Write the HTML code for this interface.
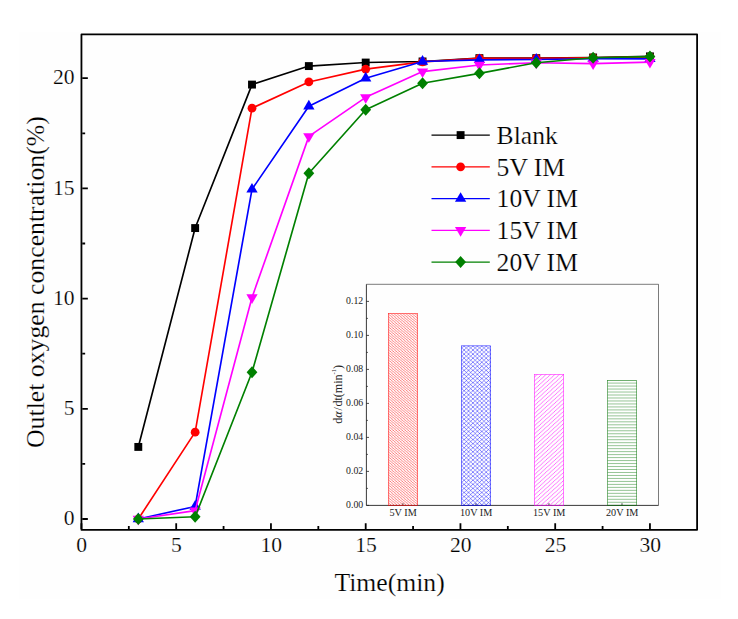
<!DOCTYPE html>
<html lang="en"><head><meta charset="utf-8"><title>Outlet oxygen concentration</title>
<style>
html,body{margin:0;padding:0;background:#fff;}
body{width:738px;height:619px;overflow:hidden;}
svg{display:block;font-family:"Liberation Serif","Times New Roman",serif;}
text{stroke:#fefefe;stroke-width:0.2px;paint-order:fill stroke;}
.sm text,text.sm{stroke:none;}
</style></head><body>
<svg width="738" height="619" viewBox="0 0 738 619">
<defs>
<pattern id="h1" width="3.03" height="2.55" patternUnits="userSpaceOnUse"><path d="M-3.03 0L0 2.55M0 0L3.03 2.55M3.03 0L6.06 2.55" stroke="#ff0000" stroke-width="0.5" stroke-opacity="1" fill="none"/></pattern>
<pattern id="h2" width="4.42" height="4.07" patternUnits="userSpaceOnUse"><path d="M-4.42 0L0 4.07M0 0L4.42 4.07M4.42 0L8.84 4.07M-4.42 4.07L0 0M0 4.07L4.42 0M4.42 4.07L8.84 0" stroke="#0000ff" stroke-width="0.45" stroke-opacity="1" fill="none"/></pattern>
<pattern id="h3" width="4.44" height="4.07" patternUnits="userSpaceOnUse"><path d="M-4.44 4.07L0 0M0 4.07L4.44 0M4.44 4.07L8.88 0" stroke="#ff00ff" stroke-width="0.55" stroke-opacity="1" fill="none"/></pattern>
<pattern id="h4" x="0" y="380.6" width="3" height="2.98" patternUnits="userSpaceOnUse"><path d="M0 2.9H3" stroke="#007000" stroke-width="0.7"/></pattern>
</defs>
<rect x="19" y="32" width="702" height="567" fill="#fefefe"/>
<rect x="81.45" y="34.4" width="615.65" height="495.45" fill="none" stroke="#000" stroke-width="1.8" stroke-linejoin="round"/>
<path d="M82.25 519.00h5.6 M82.25 408.80h5.6 M82.25 298.60h5.6 M82.25 188.40h5.6 M82.25 78.20h5.6 M82.25 463.90h2.9 M82.25 353.70h2.9 M82.25 243.50h2.9 M82.25 133.30h2.9 M81.45 529.05v-5.9 M176.20 529.05v-5.9 M270.95 529.05v-5.9 M365.70 529.05v-5.9 M460.45 529.05v-5.9 M555.20 529.05v-5.9 M649.95 529.05v-5.9 M128.82 529.05v-3.1 M223.57 529.05v-3.1 M318.32 529.05v-3.1 M413.07 529.05v-3.1 M507.82 529.05v-3.1 M602.58 529.05v-3.1" stroke="#000" stroke-width="1.8" fill="none"/>
<g font-size="21.6px" fill="#000">
<text x="74.6" y="525.10" text-anchor="end">0</text>
<text x="74.6" y="414.90" text-anchor="end">5</text>
<text x="74.6" y="304.70" text-anchor="end">10</text>
<text x="74.6" y="194.50" text-anchor="end">15</text>
<text x="74.6" y="84.30" text-anchor="end">20</text>
<text x="81.75" y="551.9" text-anchor="middle">0</text>
<text x="176.50" y="551.9" text-anchor="middle">5</text>
<text x="271.25" y="551.9" text-anchor="middle">10</text>
<text x="366.00" y="551.9" text-anchor="middle">15</text>
<text x="460.75" y="551.9" text-anchor="middle">20</text>
<text x="555.50" y="551.9" text-anchor="middle">25</text>
<text x="650.25" y="551.9" text-anchor="middle">30</text>
</g>
<text x="389.6" y="591.4" font-size="25.7px" text-anchor="middle">Time(min)</text>
<text transform="translate(44.2 282.1) rotate(-90)" font-size="25.75px" text-anchor="middle">Outlet oxygen concentration(%)</text>
<path d="M366.4 284.3H658.5V505.4" fill="none" stroke="#222" stroke-width="0.6"/>
<path d="M366.4 284.3V505.4H658.5" fill="none" stroke="#222" stroke-width="0.9"/>
<path d="M366.4 505.40h2.6 M366.4 471.40h2.6 M366.4 437.40h2.6 M366.4 403.40h2.6 M366.4 369.40h2.6 M366.4 335.40h2.6 M366.4 301.40h2.6 M366.4 488.40h1.5 M366.4 454.40h1.5 M366.4 420.40h1.5 M366.4 386.40h1.5 M366.4 352.40h1.5 M366.4 318.40h1.5 M402.91 505.4v-2.2 M475.94 505.4v-2.2 M548.96 505.4v-2.2 M621.99 505.4v-2.2" stroke="#222" stroke-width="0.8" fill="none"/>
<g class="sm" font-size="9.8px" fill="#222">
<text x="363.2" y="508.00" text-anchor="end">0.00</text>
<text x="363.2" y="474.00" text-anchor="end">0.02</text>
<text x="363.2" y="440.00" text-anchor="end">0.04</text>
<text x="363.2" y="406.00" text-anchor="end">0.06</text>
<text x="363.2" y="372.00" text-anchor="end">0.08</text>
<text x="363.2" y="338.00" text-anchor="end">0.10</text>
<text x="363.2" y="304.00" text-anchor="end">0.12</text>
<text x="403.11" y="515.6" font-size="10.2px" text-anchor="middle">5V IM</text>
<text x="476.14" y="515.6" font-size="10.2px" text-anchor="middle">10V IM</text>
<text x="549.16" y="515.6" font-size="10.2px" text-anchor="middle">15V IM</text>
<text x="622.19" y="515.6" font-size="10.2px" text-anchor="middle">20V IM</text>
</g>
<text transform="translate(341.6 394.4) rotate(-90)" class="sm" font-size="12px" fill="#222" text-anchor="middle">d<tspan font-style="italic">α</tspan><tspan dx="0.8">/</tspan><tspan dx="0.8">dt(min</tspan><tspan font-size="6.5px" dy="-5.6">-1</tspan><tspan dy="5.6">)</tspan></text>
<rect x="388.30" y="313.40" width="29.40" height="192.00" fill="url(#h1)" stroke="#ff0000" stroke-width="0.6" stroke-opacity="0.85"/>
<rect x="461.40" y="345.85" width="29.30" height="159.55" fill="url(#h2)" stroke="#0000ff" stroke-width="0.6" stroke-opacity="0.85"/>
<rect x="534.30" y="374.40" width="29.40" height="131.00" fill="url(#h3)" stroke="#ff00ff" stroke-width="0.6" stroke-opacity="0.85"/>
<rect x="607.60" y="380.60" width="29.10" height="124.80" fill="url(#h4)" stroke="#007000" stroke-width="0.6" stroke-opacity="0.85"/>
<polyline points="138.30,446.93 195.15,228.07 252.00,84.59 308.85,66.08 365.70,62.55 422.55,61.45 479.40,58.14 536.25,58.14 593.10,57.48 649.95,56.38" fill="none" stroke="#000000" stroke-width="1.65" stroke-linejoin="round"/>
<rect x="134.35" y="442.98" width="7.90" height="7.90" fill="#000000"/>
<rect x="191.20" y="224.12" width="7.90" height="7.90" fill="#000000"/>
<rect x="248.05" y="80.64" width="7.90" height="7.90" fill="#000000"/>
<rect x="304.90" y="62.13" width="7.90" height="7.90" fill="#000000"/>
<rect x="361.75" y="58.60" width="7.90" height="7.90" fill="#000000"/>
<rect x="418.60" y="57.50" width="7.90" height="7.90" fill="#000000"/>
<rect x="475.45" y="54.19" width="7.90" height="7.90" fill="#000000"/>
<rect x="532.30" y="54.19" width="7.90" height="7.90" fill="#000000"/>
<rect x="589.15" y="53.53" width="7.90" height="7.90" fill="#000000"/>
<rect x="646.00" y="52.43" width="7.90" height="7.90" fill="#000000"/>
<polyline points="138.30,519.00 195.15,432.16 252.00,108.17 308.85,81.95 365.70,69.16 422.55,61.89 479.40,58.36 536.25,58.36 593.10,57.70 649.95,56.82" fill="none" stroke="#ff0000" stroke-width="1.65" stroke-linejoin="round"/>
<circle cx="138.30" cy="519.00" r="4.40" fill="#ff0000"/>
<circle cx="195.15" cy="432.16" r="4.40" fill="#ff0000"/>
<circle cx="252.00" cy="108.17" r="4.40" fill="#ff0000"/>
<circle cx="308.85" cy="81.95" r="4.40" fill="#ff0000"/>
<circle cx="365.70" cy="69.16" r="4.40" fill="#ff0000"/>
<circle cx="422.55" cy="61.89" r="4.40" fill="#ff0000"/>
<circle cx="479.40" cy="58.36" r="4.40" fill="#ff0000"/>
<circle cx="536.25" cy="58.36" r="4.40" fill="#ff0000"/>
<circle cx="593.10" cy="57.70" r="4.40" fill="#ff0000"/>
<circle cx="649.95" cy="56.82" r="4.40" fill="#ff0000"/>
<polyline points="138.30,519.00 195.15,506.44 252.00,189.28 308.85,106.19 365.70,78.20 422.55,61.45 479.40,59.91 536.25,59.47 593.10,58.80 649.95,58.80" fill="none" stroke="#0000ff" stroke-width="1.65" stroke-linejoin="round"/>
<polygon points="138.30,512.60 143.95,522.20 132.65,522.20" fill="#0000ff"/>
<polygon points="195.15,500.04 200.80,509.64 189.50,509.64" fill="#0000ff"/>
<polygon points="252.00,182.88 257.65,192.48 246.35,192.48" fill="#0000ff"/>
<polygon points="308.85,99.79 314.50,109.39 303.20,109.39" fill="#0000ff"/>
<polygon points="365.70,71.80 371.35,81.40 360.05,81.40" fill="#0000ff"/>
<polygon points="422.55,55.05 428.20,64.65 416.90,64.65" fill="#0000ff"/>
<polygon points="479.40,53.51 485.05,63.11 473.75,63.11" fill="#0000ff"/>
<polygon points="536.25,53.07 541.90,62.67 530.60,62.67" fill="#0000ff"/>
<polygon points="593.10,52.40 598.75,62.00 587.45,62.00" fill="#0000ff"/>
<polygon points="649.95,52.40 655.60,62.00 644.30,62.00" fill="#0000ff"/>
<polyline points="138.30,519.00 195.15,510.62 252.00,297.50 308.85,136.39 365.70,97.37 422.55,71.59 479.40,64.98 536.25,62.77 593.10,63.65 649.95,62.11" fill="none" stroke="#ff00ff" stroke-width="1.65" stroke-linejoin="round"/>
<polygon points="138.30,525.40 143.95,515.80 132.65,515.80" fill="#ff00ff"/>
<polygon points="195.15,517.02 200.80,507.42 189.50,507.42" fill="#ff00ff"/>
<polygon points="252.00,303.90 257.65,294.30 246.35,294.30" fill="#ff00ff"/>
<polygon points="308.85,142.79 314.50,133.19 303.20,133.19" fill="#ff00ff"/>
<polygon points="365.70,103.77 371.35,94.17 360.05,94.17" fill="#ff00ff"/>
<polygon points="422.55,77.99 428.20,68.39 416.90,68.39" fill="#ff00ff"/>
<polygon points="479.40,71.38 485.05,61.78 473.75,61.78" fill="#ff00ff"/>
<polygon points="536.25,69.17 541.90,59.57 530.60,59.57" fill="#ff00ff"/>
<polygon points="593.10,70.05 598.75,60.45 587.45,60.45" fill="#ff00ff"/>
<polygon points="649.95,68.51 655.60,58.91 644.30,58.91" fill="#ff00ff"/>
<polyline points="138.30,519.00 195.15,516.80 252.00,372.21 308.85,173.19 365.70,109.72 422.55,83.27 479.40,73.35 536.25,62.77 593.10,57.70 649.95,56.60" fill="none" stroke="#008000" stroke-width="1.65" stroke-linejoin="round"/>
<polygon points="138.30,513.00 143.70,519.00 138.30,525.00 132.90,519.00" fill="#008000"/>
<polygon points="195.15,510.80 200.55,516.80 195.15,522.80 189.75,516.80" fill="#008000"/>
<polygon points="252.00,366.21 257.40,372.21 252.00,378.21 246.60,372.21" fill="#008000"/>
<polygon points="308.85,167.19 314.25,173.19 308.85,179.19 303.45,173.19" fill="#008000"/>
<polygon points="365.70,103.72 371.10,109.72 365.70,115.72 360.30,109.72" fill="#008000"/>
<polygon points="422.55,77.27 427.95,83.27 422.55,89.27 417.15,83.27" fill="#008000"/>
<polygon points="479.40,67.35 484.80,73.35 479.40,79.35 474.00,73.35" fill="#008000"/>
<polygon points="536.25,56.77 541.65,62.77 536.25,68.77 530.85,62.77" fill="#008000"/>
<polygon points="593.10,51.70 598.50,57.70 593.10,63.70 587.70,57.70" fill="#008000"/>
<polygon points="649.95,50.60 655.35,56.60 649.95,62.60 644.55,56.60" fill="#008000"/>
<g font-size="25.6px" fill="#000">
<path d="M431.5 135.10H489.8" stroke="#000000" stroke-width="1.35"/>
<rect x="456.65" y="131.15" width="7.90" height="7.90" fill="#000000"/>
<text x="496.6" y="143.80">Blank</text>
<path d="M431.5 166.84H489.8" stroke="#ff0000" stroke-width="1.35"/>
<circle cx="460.60" cy="166.84" r="4.40" fill="#ff0000"/>
<text x="496.6" y="175.54">5V IM</text>
<path d="M431.5 198.58H489.8" stroke="#0000ff" stroke-width="1.35"/>
<polygon points="460.60,192.18 466.25,201.78 454.95,201.78" fill="#0000ff"/>
<text x="496.6" y="207.28">10V IM</text>
<path d="M431.5 230.32H489.8" stroke="#ff00ff" stroke-width="1.35"/>
<polygon points="460.60,236.72 466.25,227.12 454.95,227.12" fill="#ff00ff"/>
<text x="496.6" y="239.02">15V IM</text>
<path d="M431.5 262.06H489.8" stroke="#008000" stroke-width="1.35"/>
<polygon points="460.60,256.06 466.00,262.06 460.60,268.06 455.20,262.06" fill="#008000"/>
<text x="496.6" y="270.76">20V IM</text>
</g>
</svg>
</body></html>
